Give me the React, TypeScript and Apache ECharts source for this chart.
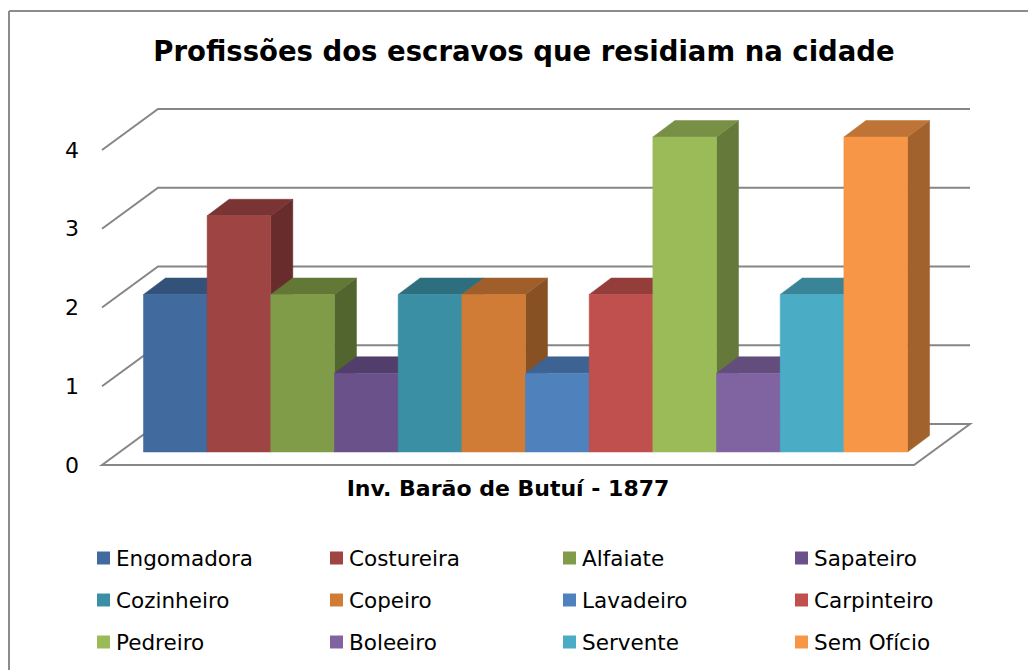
import React, { useEffect, useRef } from 'react';
import * as echarts from 'echarts';

const titleText = 'Profissões dos escravos que residiam na cidade';
const categories = ['Inv. Barão de Butuí - 1877'];
const seriesNames = [
  'Engomadora', 'Costureira', 'Alfaiate', 'Sapateiro',
  'Cozinheiro', 'Copeiro', 'Lavadeiro', 'Carpinteiro',
  'Pedreiro', 'Boleeiro', 'Servente', 'Sem Ofício',
];
const seriesValues = [2, 3, 2, 1, 2, 2, 1, 2, 4, 1, 2, 4];
const yTicks = [0, 1, 2, 3, 4];
const seriesColors = [
  '#416A9E', '#9E4442', '#809C48', '#6A518A',
  '#3A8FA5', '#D07C37', '#4F81BD', '#C0504D',
  '#9BBB59', '#8064A2', '#4BACC6', '#F79646',
];

const FONT = 'DejaVu Sans';
// 3D geometry (pixels)
const WALL_DX = 56;
const WALL_DY = -41;
const BAR_DX = 17.5;
const BAR_DY = -13;
const TOP_DX = 22;
const TOP_DY = -16.5;
const GROUP_RATIO = 0.941;
const GRID_COLOR = '#868686';

function shade(hex: string, f: number): string {
  const n = parseInt(hex.slice(1), 16);
  const r = Math.round(((n >> 16) & 255) * f);
  const g = Math.round(((n >> 8) & 255) * f);
  const b = Math.round((n & 255) * f);
  return `rgb(${r},${g},${b})`;
}

function makeBarRenderer(i: number, color: string) {
  const topC = shade(color, 0.77);
  const sideC = shade(color, 0.65);
  return (params: any, api: any) => {
    const cs = params.coordSys;
    const base = api.coord([0, 0]);
    const top = api.coord([0, api.value(1)]);
    const total = cs.width * GROUP_RATIO;
    const n = seriesNames.length;
    const w = total / n;
    const x0 = base[0] + BAR_DX - total / 2 + i * w;
    const x1 = x0 + w;
    const yb = base[1] + BAR_DY;
    const yt = top[1] + BAR_DY;
    return {
      type: 'group',
      children: [
        {
          type: 'polygon',
          shape: { points: [[x1, yt], [x1 + TOP_DX, yt + TOP_DY], [x1 + TOP_DX, yb + TOP_DY], [x1, yb]] },
          style: { fill: sideC, stroke: sideC, lineWidth: 0.5 },
        },
        {
          type: 'polygon',
          shape: { points: [[x0, yt], [x0 + TOP_DX, yt + TOP_DY], [x1 + TOP_DX, yt + TOP_DY], [x1, yt]] },
          style: { fill: topC, stroke: topC, lineWidth: 0.5 },
        },
        {
          type: 'rect',
          shape: { x: x0, y: yt, width: w, height: yb - yt },
          style: { fill: color, stroke: color, lineWidth: 0.5 },
        },
      ],
    };
  };
}

function wallRenderer(params: any, api: any) {
  const cs = params.coordSys;
  const L = cs.x;
  const R = cs.x + cs.width;
  const v = api.value(1);
  const y = api.coord([0, v])[1];
  const style = { stroke: GRID_COLOR, lineWidth: 2, fill: 'none' };
  if (v === 0) {
    return {
      type: 'polygon',
      shape: { points: [[L, y], [L + WALL_DX, y + WALL_DY], [R + WALL_DX, y + WALL_DY], [R, y]] },
      style: { ...style, fill: '#fff' },
    };
  }
  return {
    type: 'polyline',
    shape: { points: [[L, y], [L + WALL_DX, y + WALL_DY], [R + WALL_DX, y + WALL_DY]] },
    style,
  };
}

const legendCols = [97, 330, 563, 795];

export default function App() {
  const ref = useRef<HTMLDivElement>(null);
  useEffect(() => {
    if (!ref.current) return;
    const chart = echarts.init(ref.current, undefined, { renderer: 'svg' });
    const barSeries = seriesNames.map((name, i) => ({
      type: 'custom',
      name,
      coordinateSystem: 'cartesian2d',
      clip: false,
      z: 3,
      itemStyle: { color: seriesColors[i] },
      encode: { x: 0, y: 1 },
      data: [[0, seriesValues[i]]],
      renderItem: makeBarRenderer(i, seriesColors[i]),
    }));
    const legends = legendCols.map((left, c) => ({
      orient: 'vertical',
      left,
      top: 547,
      padding: 0,
      icon: 'rect',
      itemWidth: 13,
      itemHeight: 13,
      itemGap: 20,
      selectedMode: false,
      data: [seriesNames[c], seriesNames[c + 4], seriesNames[c + 8]],
      textStyle: { fontFamily: FONT, fontSize: 21.5, lineHeight: 21, color: '#000', padding: [0, 0, 0, 1] },
    }));
    chart.setOption({
      animation: false,
      backgroundColor: '#fff',
      title: {
        text: titleText,
        left: 524,
        top: 37,
        textAlign: 'center',
        padding: 0,
        textStyle: { fontFamily: FONT, fontSize: 27.5, fontWeight: 'bold', color: '#000' },
      },
      legend: legends,
      grid: { left: 102, right: 114, top: 150, bottom: 205, containLabel: false },
      xAxis: {
        type: 'category',
        data: categories,
        axisLine: { show: false },
        axisTick: { show: false },
        splitLine: { show: false },
        axisLabel: { fontFamily: FONT, fontSize: 22, fontWeight: 'bold', color: '#000', margin: 12 },
      },
      yAxis: {
        type: 'value',
        min: 0,
        max: 4,
        interval: 1,
        axisLine: { show: false },
        axisTick: { show: false },
        splitLine: { show: false },
        axisLabel: { fontFamily: FONT, fontSize: 22, color: '#000', margin: 23 },
      },
      graphic: [
        { type: 'line', shape: { x1: 9, y1: 11, x2: 1028, y2: 11 }, style: { stroke: '#8C8C8C', lineWidth: 2 } },
        { type: 'line', shape: { x1: 9, y1: 11, x2: 9, y2: 670 }, style: { stroke: '#8C8C8C', lineWidth: 2 } },
      ],
      series: [
        {
          type: 'custom',
          name: 'walls',
          coordinateSystem: 'cartesian2d',
          clip: false,
          silent: true,
          z: 1,
          encode: { x: 0, y: 1 },
          data: yTicks.map((v) => [0, v]),
          renderItem: wallRenderer,
        },
        ...barSeries,
      ],
    });
    return () => chart.dispose();
  }, []);
  return (
    <div
      ref={ref}
      style={{ position: 'fixed', left: 0, top: 0, width: 1028, height: 670, background: '#fff' }}
    />
  );
}
